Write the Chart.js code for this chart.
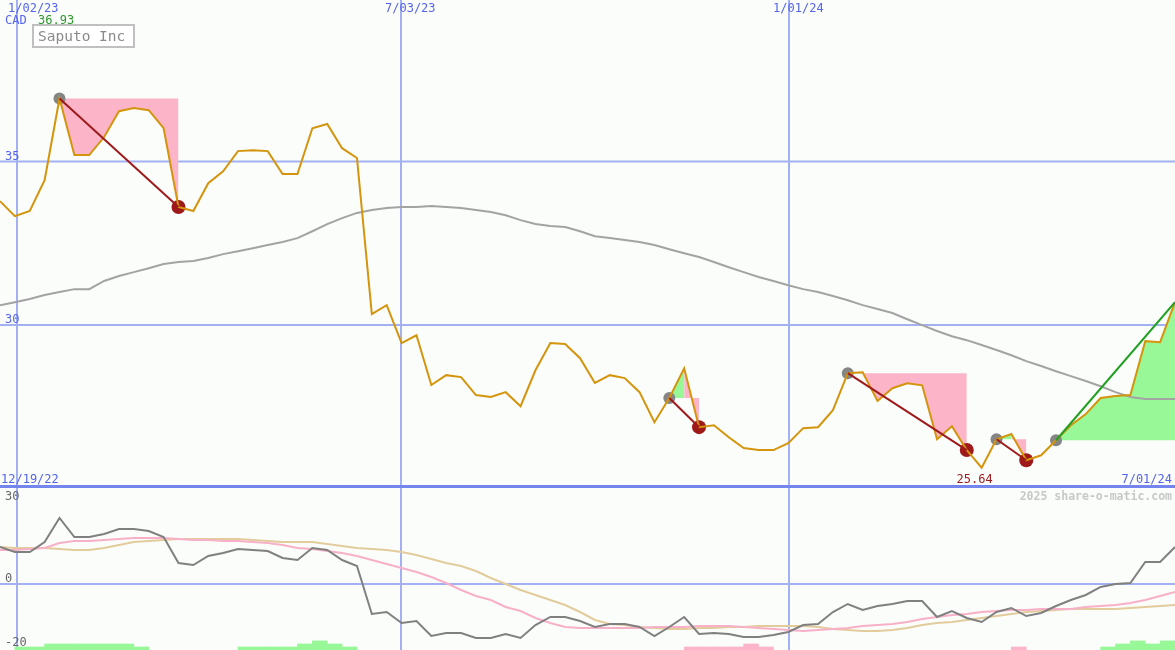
<!DOCTYPE html>
<html><head><meta charset="utf-8">
<script src="https://cdn.jsdelivr.net/npm/chart.js@4.4.1/dist/chart.umd.min.js"></script>
<style>
html,body{margin:0;padding:0;background:#fbfdfb;}
#wrap{position:relative;width:1175px;height:650px;overflow:hidden;background:#fbfdfb;}
canvas{position:absolute;left:0;}
#c1{top:0;} #c2{top:488px;}
</style></head><body>
<div id="wrap"><canvas id="c1" width="1175" height="488"></canvas><canvas id="c2" width="1175" height="162"></canvas></div>
<script>
// ---------- data ----------
const company = 'Saputo Inc';
const currency = 'CAD';
const dateTickLabels = ['1/02/23', '7/03/23', '1/01/24'];
const dateTickPos = [1.14, 26.96, 53.05];   // in week index
const startLabel = '12/19/22';
const endLabel = '7/01/24';
const priceTicks = [35, 30];
const oscTicks = [30, 0, -20];

const price = [33.79, 33.33, 33.49, 34.43, 36.93, 35.20, 35.20, 35.75, 36.54, 36.64,
  36.57, 36.02, 33.61, 33.49, 34.34, 34.70, 35.32, 35.35, 35.32, 34.62,
  34.62, 36.02, 36.15, 35.41, 35.11, 30.34, 30.61, 29.45, 29.69, 28.17,
  28.47, 28.41, 27.86, 27.80, 27.95, 27.52, 28.62, 29.45, 29.42, 28.99,
  28.23, 28.47, 28.38, 27.95, 27.03, 27.77, 28.68, 26.88, 26.94, 26.57,
  26.24, 26.18, 26.18, 26.39, 26.85, 26.88, 27.40, 28.53, 28.56, 27.68,
  28.07, 28.22, 28.16, 26.51, 26.91, 26.18, 25.64, 26.51, 26.67, 25.87,
  26.02, 26.48, 26.94, 27.28, 27.77, 27.83, 27.86, 29.51, 29.48, 30.70];

const movingAvg = [30.61, 30.70, 30.80, 30.92, 31.01, 31.10, 31.10, 31.35, 31.50, 31.62,
  31.74, 31.87, 31.93, 31.96, 32.05, 32.17, 32.26, 32.35, 32.45, 32.54,
  32.66, 32.87, 33.09, 33.27, 33.43, 33.52, 33.58, 33.61, 33.61, 33.64,
  33.61, 33.58, 33.52, 33.46, 33.36, 33.21, 33.09, 33.03, 33.00, 32.87,
  32.72, 32.66, 32.60, 32.54, 32.45, 32.32, 32.20, 32.08, 31.93, 31.77,
  31.62, 31.47, 31.35, 31.22, 31.10, 31.01, 30.89, 30.76, 30.61, 30.49,
  30.37, 30.18, 30.00, 29.82, 29.66, 29.54, 29.39, 29.24, 29.08, 28.90,
  28.75, 28.59, 28.44, 28.29, 28.13, 27.95, 27.80, 27.74, 27.74, 27.74];

const oscMain = [11.38, 9.85, 9.85, 12.92, 20.31, 14.46, 14.46, 15.38, 16.92, 16.92,
  16.31, 14.46, 6.46, 5.85, 8.62, 9.54, 10.77, 10.46, 10.15, 8.00,
  7.38, 11.08, 10.46, 7.38, 5.54, -9.23, -8.62, -12.00, -11.38, -16.00,
  -15.08, -15.08, -16.62, -16.62, -15.38, -16.62, -12.62, -10.15, -10.15, -11.38,
  -13.23, -12.31, -12.31, -13.23, -16.00, -13.23, -10.15, -15.38, -15.08, -15.38,
  -16.31, -16.31, -15.69, -14.77, -12.62, -12.31, -8.62, -6.15, -8.00, -6.77,
  -6.15, -5.23, -5.23, -10.15, -8.31, -10.46, -11.69, -8.62, -7.38, -9.85,
  -8.92, -6.77, -4.92, -3.38, -0.92, 0.00, 0.31, 6.77, 6.77, 11.38];

const oscPink = [10.46, 10.46, 10.77, 11.08, 12.62, 13.23, 13.23, 13.54, 13.85, 14.15,
  14.15, 14.15, 13.85, 13.54, 13.54, 13.23, 13.23, 12.92, 12.62, 12.00,
  11.08, 10.77, 10.15, 9.54, 8.62, 7.38, 6.15, 4.92, 3.69, 2.15,
  0.31, -1.85, -3.69, -4.92, -7.08, -8.31, -10.46, -12.00, -13.23, -13.54,
  -13.54, -13.54, -13.54, -13.54, -13.23, -13.23, -13.23, -12.92, -12.92, -12.92,
  -13.23, -13.54, -13.85, -14.15, -14.46, -14.15, -13.85, -13.54, -12.92, -12.62,
  -12.31, -11.69, -10.77, -10.15, -9.54, -9.23, -8.62, -8.31, -8.00, -8.00,
  -7.69, -7.69, -7.69, -7.08, -6.77, -6.46, -5.85, -4.92, -3.69, -2.46];

const oscTan = [11.38, 11.08, 11.08, 11.08, 10.77, 10.46, 10.46, 11.08, 12.00, 12.92,
  13.23, 13.54, 13.85, 13.85, 13.85, 13.85, 13.85, 13.54, 13.23, 12.92,
  12.92, 12.92, 12.31, 11.69, 11.08, 10.77, 10.46, 9.85, 8.92, 7.69,
  6.46, 5.54, 4.00, 1.85, 0.00, -1.85, -3.38, -4.92, -6.46, -8.62,
  -11.08, -12.31, -12.62, -13.23, -13.54, -13.85, -13.85, -13.54, -13.54, -13.23,
  -13.23, -12.92, -12.92, -12.92, -12.92, -13.23, -13.85, -14.15, -14.46, -14.46,
  -14.15, -13.54, -12.62, -12.00, -11.69, -11.08, -10.46, -9.85, -9.23, -8.62,
  -8.31, -8.00, -7.69, -7.69, -7.69, -7.69, -7.38, -7.08, -6.77, -6.46];

const barsGreen = [0, 1, 1, 2, 2, 2, 2, 2, 2, 1, 0, 0, 0, 0, 0, 0, 1, 1, 1, 1,
  2, 3, 2, 1, 0, 0, 0, 0, 0, 0, 0, 0, 0, 0, 0, 0, 0, 0, 0, 0,
  0, 0, 0, 0, 0, 0, 0, 0, 0, 0, 0, 0, 0, 0, 0, 0, 0, 0, 0, 0,
  0, 0, 0, 0, 0, 0, 0, 0, 0, 0, 0, 0, 0, 0, 1, 2, 3, 2, 3, 0];
const barsPink = [0, 0, 0, 0, 0, 0, 0, 0, 0, 0, 0, 0, 0, 0, 0, 0, 0, 0, 0, 0,
  0, 0, 0, 0, 0, 0, 0, 0, 0, 0, 0, 0, 0, 0, 0, 0, 0, 0, 0, 0,
  0, 0, 0, 0, 0, 0, 1, 1, 1, 1, 2, 1, 0, 0, 0, 0, 0, 0, 0, 0,
  0, 0, 0, 0, 0, 0, 0, 0, 1, 0, 0, 0, 0, 0, 0, 0, 0, 0, 0, 0];

// drawdown events (week indices): start, peak, trough
const ddStart = [4, 45, 57, 67];
const ddPeak = [4, 46, 58, 68];
const ddTrough = [12, 47, 65, 69];
// final rally
const riseStart = 71;
const riseEnd = 79;

// ---------- styles ----------
const C = {
  grid: '#a3b1f3', sep: '#7585ee', blue: '#5564ee', price: '#d4940c', ma: '#a3a3a3',
  pinkFill: '#fbb4c8', greenFill: '#98f898', red: '#9e1a1a', green: '#22a022',
  marker: '#858585', osc: '#808080', oscPink: '#f8b0c8', oscTan: '#e2cc9c', text: '#666'
};
const MONO = '"DejaVu Sans Mono", "Liberation Mono", monospace';
const N = price.length;
const pts = (arr, from = 0, to = arr.length - 1) => {
  const out = [];
  for (let i = from; i <= to; i++) out.push({ x: i, y: arr[i] });
  return out;
};

// ---------- top chart ----------
const ds1 = [];
for (let e = 0; e < ddStart.length; e++) {
  const lvl = price[ddStart[e]];
  if (ddPeak[e] > ddStart[e]) ds1.push({ data: pts(price, ddStart[e], ddPeak[e]), fill: { value: lvl }, backgroundColor: C.greenFill, borderWidth: 0, pointRadius: 0, order: 50 });
  ds1.push({ data: pts(price, ddPeak[e], ddTrough[e]), fill: { value: lvl }, backgroundColor: C.pinkFill, borderWidth: 0, pointRadius: 0, order: 50 });
}
ds1.push({ data: pts(price, riseStart, riseEnd), fill: { value: price[riseStart] }, backgroundColor: C.greenFill, borderWidth: 0, pointRadius: 0, order: 50 });
ds1.push({ data: pts(movingAvg), borderColor: C.ma, borderWidth: 2, pointRadius: 0, fill: false, order: 40 });
ds1.push({ data: ddStart.concat([riseStart]).map(i => ({ x: i, y: price[i] })), showLine: false, pointRadius: 6, pointBackgroundColor: C.marker, pointBorderWidth: 0, order: 30 });
ds1.push({ data: ddTrough.map(i => ({ x: i, y: price[i] })), showLine: false, pointRadius: 7, pointBackgroundColor: C.red, pointBorderWidth: 0, order: 30 });
ds1.push({ data: pts(price), borderColor: C.price, borderWidth: 2, pointRadius: 0, fill: false, order: 20 });
for (let e = 0; e < ddStart.length; e++) {
  ds1.push({ data: [{ x: ddStart[e], y: price[ddStart[e]] }, { x: ddTrough[e], y: price[ddTrough[e]] }], borderColor: C.red, borderWidth: 2, pointRadius: 0, fill: false, order: 10 });
}
ds1.push({ data: [{ x: riseStart, y: price[riseStart] }, { x: riseEnd, y: price[riseEnd] }], borderColor: C.green, borderWidth: 2, pointRadius: 0, fill: false, order: 10 });

function vGrid(chart) {
  const { ctx, scales: { x } } = chart;
  ctx.strokeStyle = C.grid; ctx.lineWidth = 2;
  for (const v of dateTickPos) {
    const px = Math.round(x.getPixelForValue(v));
    ctx.beginPath(); ctx.moveTo(px, 0); ctx.lineTo(px, chart.height); ctx.stroke();
  }
}

const topPlugin = {
  id: 'topDecor',
  beforeDatasetsDraw(chart) {
    const { ctx, scales: { y } } = chart;
    ctx.save();
    vGrid(chart);
    ctx.strokeStyle = C.grid; ctx.lineWidth = 2;
    for (const v of priceTicks) {
      const py = y.getPixelForValue(v);
      ctx.beginPath(); ctx.moveTo(0, py); ctx.lineTo(chart.width, py); ctx.stroke();
    }
    ctx.restore();
  },
  afterDraw(chart) {
    const { ctx, scales: { x, y } } = chart;
    ctx.save();
    ctx.fillStyle = C.sep; ctx.fillRect(0, 485, chart.width, 3);
    ctx.font = '12px ' + MONO; ctx.textBaseline = 'alphabetic'; ctx.textAlign = 'left';
    ctx.fillStyle = C.blue;
    dateTickLabels.forEach((t, k) => {
      const px = x.getPixelForValue(dateTickPos[k]);
      ctx.fillText(t, Math.max(8, px - 16), 12);
    });
    for (const v of priceTicks) ctx.fillText(String(v), 5, y.getPixelForValue(v) - 2);
    ctx.fillText(currency, 5, 24);
    ctx.fillText(startLabel, 1, 483);
    ctx.textAlign = 'right'; ctx.fillText(endLabel, 1172, 483);
    ctx.textAlign = 'left';
    const mx = Math.max(...price), mn = Math.min(...price);
    ctx.fillStyle = '#2a9a2a'; ctx.fillText(mx.toFixed(2), 38, 24);
    ctx.fillStyle = C.red; ctx.textAlign = 'center';
    ctx.fillText(mn.toFixed(2), x.getPixelForValue(price.indexOf(mn)) - 7, 483);
    // title box
    ctx.fillStyle = '#ffffff'; ctx.fillRect(33, 25, 101, 22);
    ctx.strokeStyle = '#c0c0c0'; ctx.lineWidth = 2; ctx.strokeRect(33, 25, 101, 22);
    ctx.fillStyle = '#8a8a8a'; ctx.font = '14.5px ' + MONO; ctx.textAlign = 'left';
    ctx.fillText(company, 38, 41);
    ctx.restore();
  }
};

new Chart(document.getElementById('c1'), {
  type: 'line',
  data: { datasets: ds1 },
  options: {
    responsive: false, animation: false, events: [],
    layout: { padding: 0, autoPadding: false },
    plugins: { legend: { display: false }, tooltip: { enabled: false } },
    scales: {
      x: { type: 'linear', display: false, min: 0, max: N - 1, offset: false },
      y: { type: 'linear', display: false, min: 25.02, max: 39.94 }
    }
  },
  plugins: [topPlugin]
});

// ---------- bottom chart ----------
const oscMin = -20.31, oscMax = 29.54, barUnit = 0.93;
const barData = arr => arr.map((h, i) => h ? { x: i + 0.5, y: [oscMin, oscMin + h * barUnit] } : null).filter(Boolean);
const ds2 = [
  { type: 'bar', data: barData(barsGreen), backgroundColor: C.greenFill, borderWidth: 0, grouped: false, barPercentage: 1, categoryPercentage: 1, order: 50 },
  { type: 'bar', data: barData(barsPink), backgroundColor: C.pinkFill, borderWidth: 0, grouped: false, barPercentage: 1, categoryPercentage: 1, order: 50 },
  { data: pts(oscTan), borderColor: C.oscTan, borderWidth: 2, pointRadius: 0, fill: false, order: 30 },
  { data: pts(oscPink), borderColor: C.oscPink, borderWidth: 2, pointRadius: 0, fill: false, order: 25 },
  { data: pts(oscMain), borderColor: C.osc, borderWidth: 2, pointRadius: 0, fill: false, order: 20 }
];

const botPlugin = {
  id: 'botDecor',
  beforeDatasetsDraw(chart) {
    const { ctx, scales: { y } } = chart;
    ctx.save();
    vGrid(chart);
    ctx.strokeStyle = C.grid; ctx.lineWidth = 2;
    const py = y.getPixelForValue(0);
    ctx.beginPath(); ctx.moveTo(0, py); ctx.lineTo(chart.width, py); ctx.stroke();
    ctx.restore();
  },
  afterDraw(chart) {
    const { ctx, scales: { y } } = chart;
    ctx.save();
    ctx.font = '12px ' + MONO; ctx.textAlign = 'left'; ctx.fillStyle = C.text;
    for (const v of oscTicks) {
      const py = Math.min(158, Math.max(12, y.getPixelForValue(v) - 2));
      ctx.fillText(String(v), 5, py);
    }
    ctx.font = 'bold 11.5px ' + MONO; ctx.fillStyle = '#c8c8c8'; ctx.textAlign = 'right';
    ctx.fillText('2025 share-o-matic.com', 1172, 12);
    ctx.restore();
  }
};

new Chart(document.getElementById('c2'), {
  type: 'line',
  data: { datasets: ds2 },
  options: {
    responsive: false, animation: false, events: [],
    layout: { padding: 0, autoPadding: false },
    plugins: { legend: { display: false }, tooltip: { enabled: false } },
    scales: {
      x: { type: 'linear', display: false, min: 0, max: N - 1, offset: false },
      y: { type: 'linear', display: false, min: oscMin, max: oscMax }
    }
  },
  plugins: [botPlugin]
});
</script>
</body></html>
